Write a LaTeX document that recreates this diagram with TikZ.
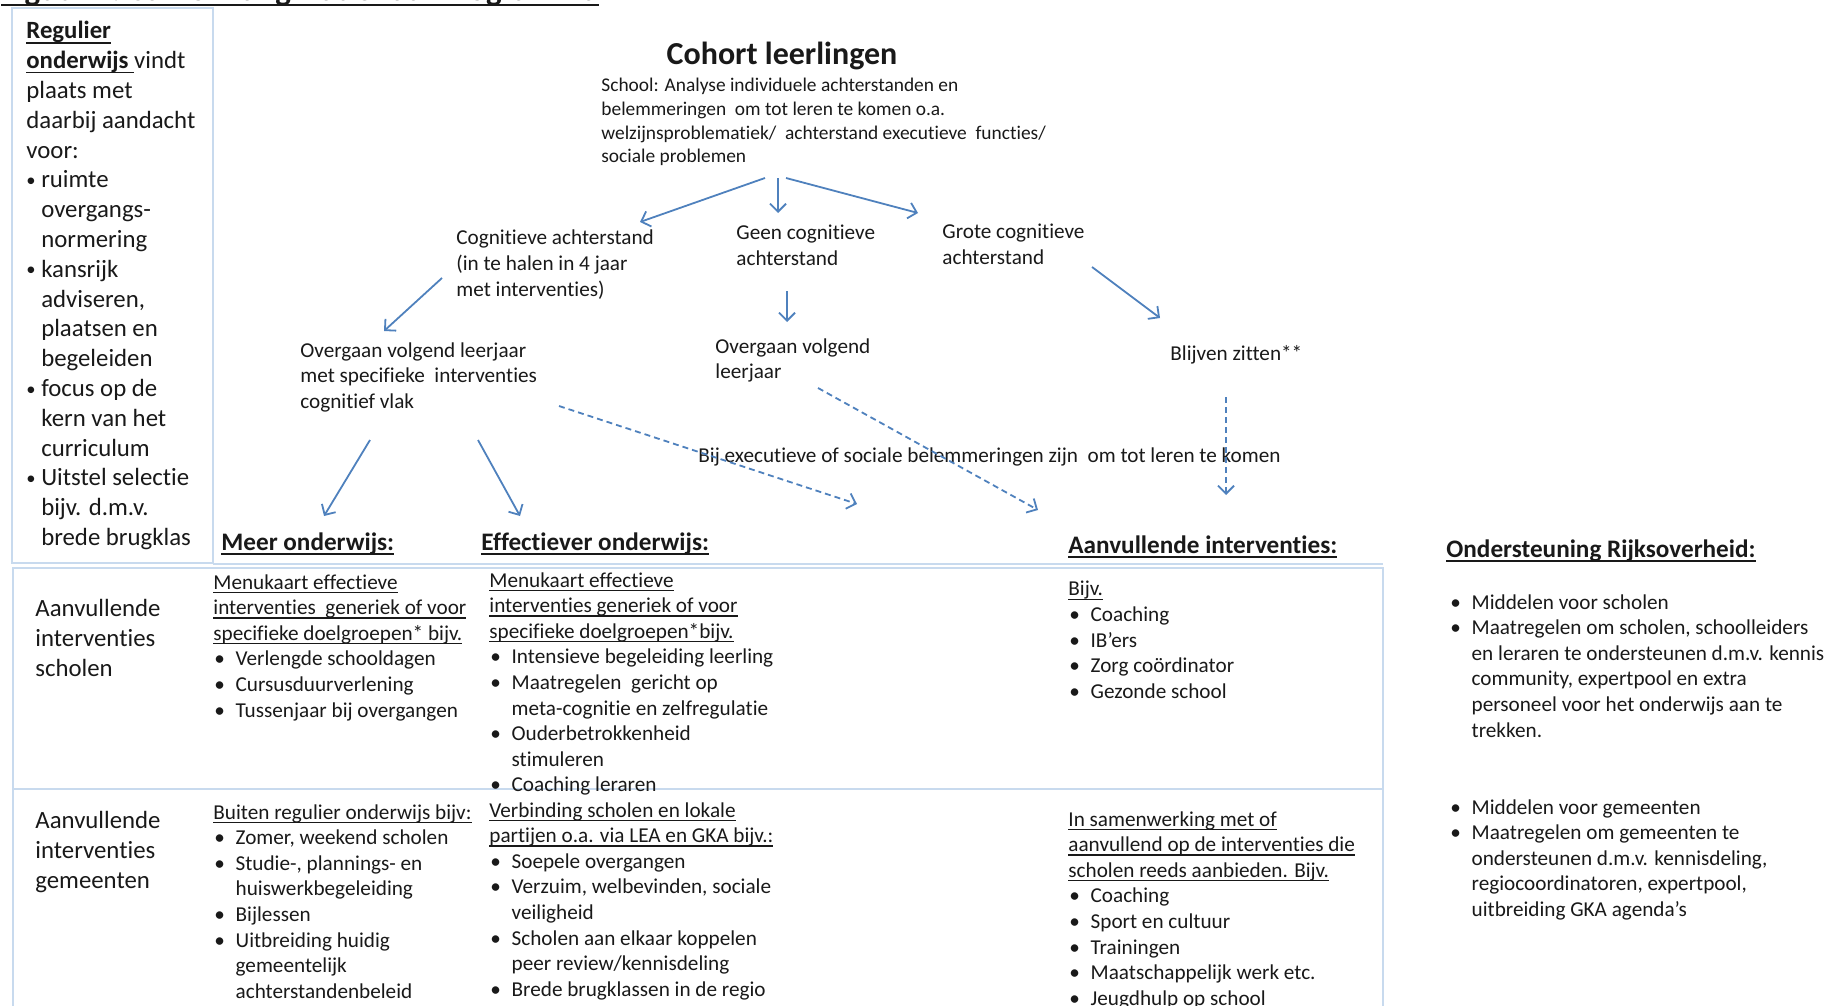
\documentclass[tikz,border=0pt]{standalone}
\usepackage{fontspec}
\setmainfont{Carlito}[Ligatures=NoCommon]
\usetikzlibrary{arrows.meta}

\definecolor{arrowblue}{RGB}{79,129,189}
\definecolor{gridblue}{RGB}{200,218,238}
\definecolor{inkgray}{RGB}{25,25,25}

% underline at a fixed depth, and bullets for the lists
\newcommand{\uln}[1]{\setbox0=\hbox{#1}\rlap{\rule[-0.19em]{\wd0}{0.065em}}\box0}
\newcommand{\bul}{\makebox[1.05em][l]{\hspace*{0.05em}\textbullet}}
\newcommand{\ind}{\hspace*{1.05em}}
\newcommand{\lbul}{\makebox[0.6em][l]{\raisebox{0.05em}{\scalebox{0.75}{\textbullet}}}}
\newcommand{\lind}{\hspace*{0.6em}}

\begin{document}
\begin{tikzpicture}[x=0.5pt,y=-0.5pt,inner sep=0pt,text=inkgray]
	\tikzstyle{body}=[anchor=north west,align=left,font=\fontsize{10.6}{12.8}\selectfont]
	\tikzstyle{big body}=[body,font=\fontsize{12.4}{14.9}\selectfont]
	\tikzstyle{head}=[anchor=north west,font=\fontsize{12.6}{14}\selectfont\bfseries]
	\tikzstyle{arr}=[draw=arrowblue,line width=0.9pt,-{Straight Barb[length=4pt,width=8pt]}]
	\tikzstyle{darr}=[arr,dash pattern=on 3pt off 2pt]
	\tikzstyle{grid line}=[draw=gridblue,line width=1pt]

	\useasboundingbox (0,0) rectangle (1825,1006);

	% Draw the title (cut off at the top)
	\node[anchor=base west,font=\fontsize{16.5}{18}\selectfont\bfseries] (title) at (1,1)
		{Figuur 1: Samenhang Nationaal Programma};
	\draw[inkgray,line width=1pt] ([yshift=-2pt]title.base west) -- ([yshift=-2pt]title.base east);

	% Draw the table lines
	\draw[grid line] (12,8) rectangle (213,563);
	\draw[grid line] (213,564) -- (1383,564);
	\draw[grid line] (13,1010) -- (13,568) -- (1383,568) -- (1383,1010);
	\draw[grid line] (13,789) -- (1383,789);

	% Draw the left box text
	\node[big body] (regulier) at (26,21) {%
		\uln{\textbf{Regulier}}\\
		\uln{\textbf{onderwijs }}vindt\\
		plaats met\\
		daarbij aandacht\\
		voor:\\
		\lbul ruimte\\ \lind overgangs-\\ \lind normering\\
		\lbul kansrijk\\ \lind adviseren,\\ \lind plaatsen en\\ \lind begeleiden\\
		\lbul focus op de\\ \lind kern van het\\ \lind curriculum\\
		\lbul Uitstel selectie\\ \lind bijv. d.m.v.\\ \lind brede brugklas};

	% Draw the flow nodes
	\node[font=\fontsize{16}{18}\selectfont\bfseries] (cohort) at (782,56) {Cohort leerlingen};
	\node[body,font=\fontsize{9.7}{11.8}\selectfont] (school) at (601,78) {%
		School: Analyse individuele achterstanden en\\
		belemmeringen\ \ om tot leren te komen o.a.\\
		welzijnsproblematiek/\ \ achterstand executieve\ \ functies/\\
		sociale problemen};
	\node[body,font=\fontsize{10.6}{13.2}\selectfont] (cog) at (456,229)
		{Cognitieve achterstand\\(in te halen in 4 jaar\\met interventies)};
	\node[body] (geen) at (736,225) {Geen cognitieve\\achterstand};
	\node[body] (grote) at (942,224) {Grote cognitieve\\achterstand};
	\node[body] (ovspec) at (300,342)
		{Overgaan volgend leerjaar\\met specifieke\ \ interventies\\cognitief vlak};
	\node[body] (ovvolg) at (715,338) {Overgaan volgend\\leerjaar};
	\node[body] (blijven) at (1170,345) {Blijven zitten**};
	\node[body] (bij) at (698,447)
		{Bij executieve of sociale belemmeringen zijn\ \ om tot leren te komen};

	% Connect the flow nodes
	\foreach \n/\sx/\sy/\ex/\ey in {1/765/178/640/222, 2/778/178/778/213,
		3/786/178/918/213, 4/442/278/384/331, 5/787/291/787/322,
		6/1092/267/1160/318, 7/370/440/324/516, 8/478/440/520/516}{
		\coordinate (s-\n) at (\sx,\sy);
		\coordinate (e-\n) at (\ex,\ey);
		\draw[arr] (s-\n) -- (e-\n);
	}
	% dashed connectors to the extra interventions
	\foreach \n/\sx/\sy/\ex/\ey in {1/559/406/857/504, 2/818/388/1038/510,
		3/1226/397/1226/495}{
		\coordinate (ds-\n) at (\sx,\sy);
		\coordinate (de-\n) at (\ex,\ey);
		\draw[darr] (ds-\n) -- (de-\n);
	}

	% Annotate the columns
	\node[head] (meer) at (221,532) {\uln{Meer onderwijs:}};
	\node[head] (effectiever) at (481,532) {\uln{Effectiever onderwijs:}};
	\node[head] (aanvullend) at (1068,535) {\uln{Aanvullende interventies:}};
	\node[head] (rijk) at (1446,539) {\uln{Ondersteuning Rijksoverheid:}};

	% Annotate the rows
	\node[big body] (scholen) at (35,599) {Aanvullende\\interventies\\scholen};
	\node[big body] (gemeenten) at (35,811) {Aanvullende\\interventies\\gemeenten};

	% Row of the schools
	\node[body] (meer-s) at (213,574) {%
		\uln{Menukaart effectieve}\\
		\uln{interventies\ \ generiek of voor}\\
		\uln{specifieke doelgroepen* bijv.}\\
		\bul Verlengde schooldagen\\
		\bul Cursusduurverlening\\
		\bul Tussenjaar bij overgangen};
	\node[body] (eff-s) at (489,572) {%
		\uln{Menukaart effectieve}\\
		\uln{interventies generiek of voor}\\
		\uln{specifieke doelgroepen*bijv.}\\
		\bul Intensieve begeleiding leerling\\
		\bul Maatregelen\ \ gericht op\\
		\ind meta-cognitie en zelfregulatie\\
		\bul Ouderbetrokkenheid\\
		\ind stimuleren\\
		\bul Coaching leraren};
	\node[body] (aanv-s) at (1068,581) {%
		\uln{Bijv.}\\
		\bul Coaching\\
		\bul IB’ers\\
		\bul Zorg coördinator\\
		\bul Gezonde school};
	\node[body] (rijk-s) at (1449,594) {%
		\bul Middelen voor scholen\\
		\bul Maatregelen om scholen, schoolleiders\\
		\ind en leraren te ondersteunen d.m.v. kennis\\
		\ind community, expertpool en extra\\
		\ind personeel voor het onderwijs aan te\\
		\ind trekken.};

	% Row of the municipalities
	\node[body] (meer-g) at (213,804) {%
		\uln{Buiten regulier onderwijs bijv:}\\
		\bul Zomer, weekend scholen\\
		\bul Studie-, plannings- en\\
		\ind huiswerkbegeleiding\\
		\bul Bijlessen\\
		\bul Uitbreiding huidig\\
		\ind gemeentelijk\\
		\ind achterstandenbeleid};
	\node[body] (eff-g) at (489,802) {%
		\uln{Verbinding scholen en lokale}\\
		\uln{partijen o.a. via LEA en GKA bijv.:}\\
		\bul Soepele overgangen\\
		\bul Verzuim, welbevinden, sociale\\
		\ind veiligheid\\
		\bul Scholen aan elkaar koppelen\\
		\ind peer review/kennisdeling\\
		\bul Brede brugklassen in de regio};
	\node[body] (aanv-g) at (1068,811) {%
		\uln{In samenwerking met of}\\
		\uln{aanvullend op de interventies die}\\
		\uln{scholen reeds aanbieden. Bijv.}\\
		\bul Coaching\\
		\bul Sport en cultuur\\
		\bul Trainingen\\
		\bul Maatschappelijk werk etc.\\
		\bul Jeugdhulp op school};
	\node[body] (rijk-g) at (1449,799) {%
		\bul Middelen voor gemeenten\\
		\bul Maatregelen om gemeenten te\\
		\ind ondersteunen d.m.v. kennisdeling,\\
		\ind regiocoordinatoren, expertpool,\\
		\ind uitbreiding GKA agenda’s};

\end{tikzpicture}
\end{document}
